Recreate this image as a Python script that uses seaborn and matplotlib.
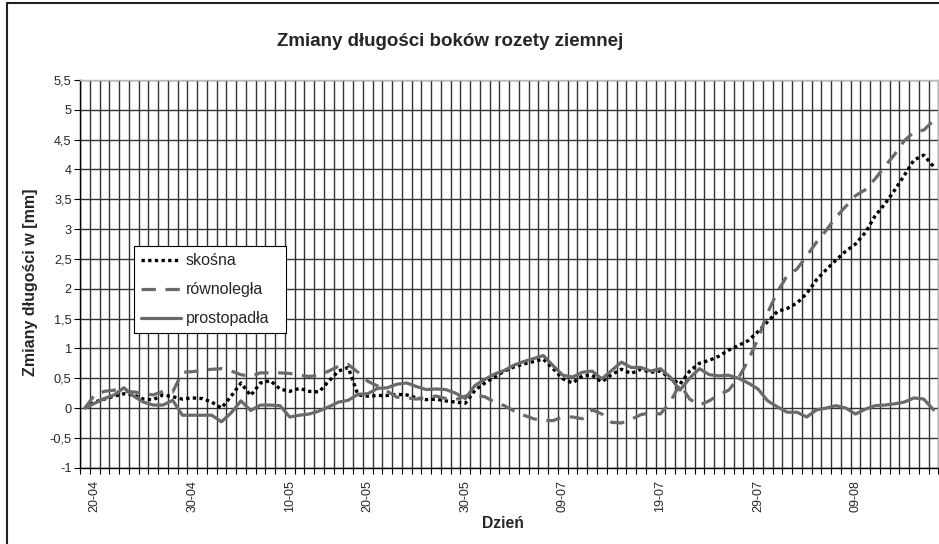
import numpy as np
import pandas as pd
import matplotlib
matplotlib.use("Agg")
import matplotlib.pyplot as plt
import seaborn as sns
from matplotlib.patches import Rectangle

# ---- data ----
tick_labels = ["20-04", "30-04", "10-05", "20-05", "30-05", "09-07", "19-07", "29-07", "09-08"]
tick_index = [1, 11, 21, 29, 39, 49, 59, 69, 79]

skosna = [0.00, 0.10, 0.15, 0.20, 0.24, 0.22, 0.15, 0.14, 0.22, 0.19,
          0.15, 0.17, 0.16, 0.10, 0.00, 0.20, 0.42, 0.21, 0.42, 0.46,
          0.32, 0.28, 0.33, 0.28, 0.27, 0.45, 0.62, 0.68, 0.22, 0.20,
          0.21, 0.21, 0.23, 0.22, 0.17, 0.14, 0.15, 0.12, 0.10, 0.08,
          0.30, 0.42, 0.52, 0.62, 0.69, 0.74, 0.78, 0.82, 0.66, 0.49,
          0.42, 0.54, 0.55, 0.44, 0.56, 0.65, 0.58, 0.65, 0.60, 0.62,
          0.50, 0.40, 0.62, 0.75, 0.80, 0.87, 0.97, 1.05, 1.13, 1.28,
          1.45, 1.62, 1.67, 1.76, 1.92, 2.15, 2.32, 2.48, 2.63, 2.75,
          2.94, 3.22, 3.42, 3.65, 3.90, 4.16, 4.24, 4.05]

rownolegla = [0.00, 0.22, 0.28, 0.30, 0.28, 0.27, 0.25, 0.22, 0.28, 0.27,
              0.60, 0.61, 0.63, 0.65, 0.66, 0.62, 0.56, 0.53, 0.59, 0.59,
              0.59, 0.58, 0.55, 0.53, 0.55, 0.62, 0.70, 0.73, 0.60, 0.45,
              0.37, 0.28, 0.18, 0.17, 0.15, 0.18, 0.20, 0.16, 0.14, 0.20,
              0.21, 0.19, 0.10, 0.04, -0.05, -0.12, -0.18, -0.21, -0.21, -0.15,
              -0.15, -0.18, -0.03, -0.10, -0.24, -0.25, -0.19, -0.11, -0.08, -0.10,
              0.10, 0.40, 0.15, 0.05, 0.12, 0.22, 0.30, 0.50, 0.80, 1.16,
              1.60, 1.95, 2.22, 2.33, 2.55, 2.78, 2.98, 3.20, 3.38, 3.56,
              3.66, 3.84, 4.05, 4.25, 4.48, 4.63, 4.66, 4.82]

prostopadla = [0.00, 0.08, 0.16, 0.22, 0.34, 0.20, 0.10, 0.05, 0.05, 0.13,
               -0.12, -0.12, -0.12, -0.12, -0.23, -0.08, 0.12, -0.04, 0.05, 0.05,
               0.04, -0.15, -0.12, -0.10, -0.05, 0.02, 0.10, 0.13, 0.23, 0.24,
               0.33, 0.34, 0.40, 0.42, 0.36, 0.31, 0.32, 0.31, 0.25, 0.16,
               0.38, 0.48, 0.57, 0.63, 0.72, 0.78, 0.83, 0.88, 0.71, 0.55,
               0.52, 0.60, 0.62, 0.49, 0.63, 0.77, 0.68, 0.68, 0.62, 0.66,
               0.52, 0.30, 0.50, 0.66, 0.56, 0.54, 0.55, 0.50, 0.42, 0.32,
               0.12, 0.02, -0.07, -0.07, -0.15, -0.03, 0.00, 0.04, 0.00, -0.10,
               -0.02, 0.04, 0.05, 0.07, 0.10, 0.17, 0.15, -0.03]

series_names = ["skośna", "równoległa", "prostopadła"]

n = len(skosna)
df = pd.DataFrame({"idx": np.arange(n), "skośna": skosna,
                   "równoległa": rownolegla, "prostopadła": prostopadla})

sns.set_theme(style="white")
plt.rcParams["font.family"] = ["Liberation Sans", "DejaVu Sans"]

W, H = 939, 544
AX_L, AX_R, AX_T, AX_B = 80, 938.4, 80, 467.7
fig = plt.figure(figsize=(W / 100, H / 100), dpi=100)
ax = fig.add_axes([AX_L / W, 1 - AX_B / H, (AX_R - AX_L) / W, (AX_B - AX_T) / H])

def axfx(px):
    return (px - AX_L) / (AX_R - AX_L)

def axfy(py):
    return (AX_B - py) / (AX_B - AX_T)

grey = "#6a6a6a"
styles = {
    "skośna": dict(color="black", linestyle=(0, (1, 1)), linewidth=2.4),
    "równoległa": dict(color=grey, linestyle=(0, (4.5, 3)), linewidth=2.3),
    "prostopadła": dict(color=grey, linestyle="-", linewidth=2.3),
}
for name in series_names:
    sns.lineplot(data=df, x="idx", y=name, ax=ax, label=name, **styles[name])

ax.set_xlim(-0.5, n - 0.5)
ax.set_ylim(-1, 5.5)
yt = np.arange(-1, 5.51, 0.5)
ax.set_yticks(yt)
ax.set_yticklabels([("%g" % v).replace(".", ",") for v in yt], fontsize=9.2)
ax.set_xticks(tick_index)
ax.set_xticklabels(tick_labels, rotation=90, fontsize=9)
ax.set_xticks(np.arange(-0.5, n, 1.0), minor=True)
ax.tick_params(axis="x", which="major", length=0, pad=9)
ax.tick_params(axis="x", which="minor", length=4, width=0.8, color="black", direction="out", bottom=True)
ax.tick_params(axis="y", length=4, width=0.8, color="black", direction="out", left=True, pad=2)

ax.grid(False)
ax.grid(True, axis="y", which="major", color="#333333", linewidth=1.0)
ax.grid(True, axis="x", which="minor", color="#333333", linewidth=1.0)
for sp in ["top", "right"]:
    ax.spines[sp].set_color("#bbbbbb")
    ax.spines[sp].set_linewidth(1.0)
for sp in ["left", "bottom"]:
    ax.spines[sp].set_color("black")
    ax.spines[sp].set_linewidth(1.0)

ax.set_xlabel("Dzień", fontsize=11.3, fontweight="bold")
ax.xaxis.set_label_coords(axfx(503), axfy(516))
ax.set_ylabel("Zmiany długości w [mm]", fontsize=11.5, fontweight="bold")
ax.yaxis.set_label_coords(axfx(38), axfy(282.5))
fig.text(450 / W, 1 - 42 / H, "Zmiany długości boków rozety ziemnej",
         ha="center", va="center", fontsize=13.5, fontweight="bold")

lx0, lx1, ly0, ly1 = 134, 286, 246, 335
leg = ax.legend(loc="upper left",
                bbox_to_anchor=(axfx(lx0), axfy(ly1), axfx(lx1) - axfx(lx0), axfy(ly0) - axfy(ly1)),
                mode="expand", frameon=True, fancybox=False, edgecolor="black", fontsize=11.5,
                handlelength=2.5, handletextpad=0.3, borderpad=0.45, labelspacing=0.88,
                borderaxespad=0)
leg.get_frame().set_linewidth(0.8)
leg.get_frame().set_facecolor("white")
leg.get_frame().set_alpha(1)

fig.patches.append(Rectangle((7 / W, -0.01), 1.02, 1 - 3 / H + 0.01, transform=fig.transFigure,
                             fill=False, edgecolor="#222222", linewidth=1.5))

fig.savefig("out.png", dpi=100)
